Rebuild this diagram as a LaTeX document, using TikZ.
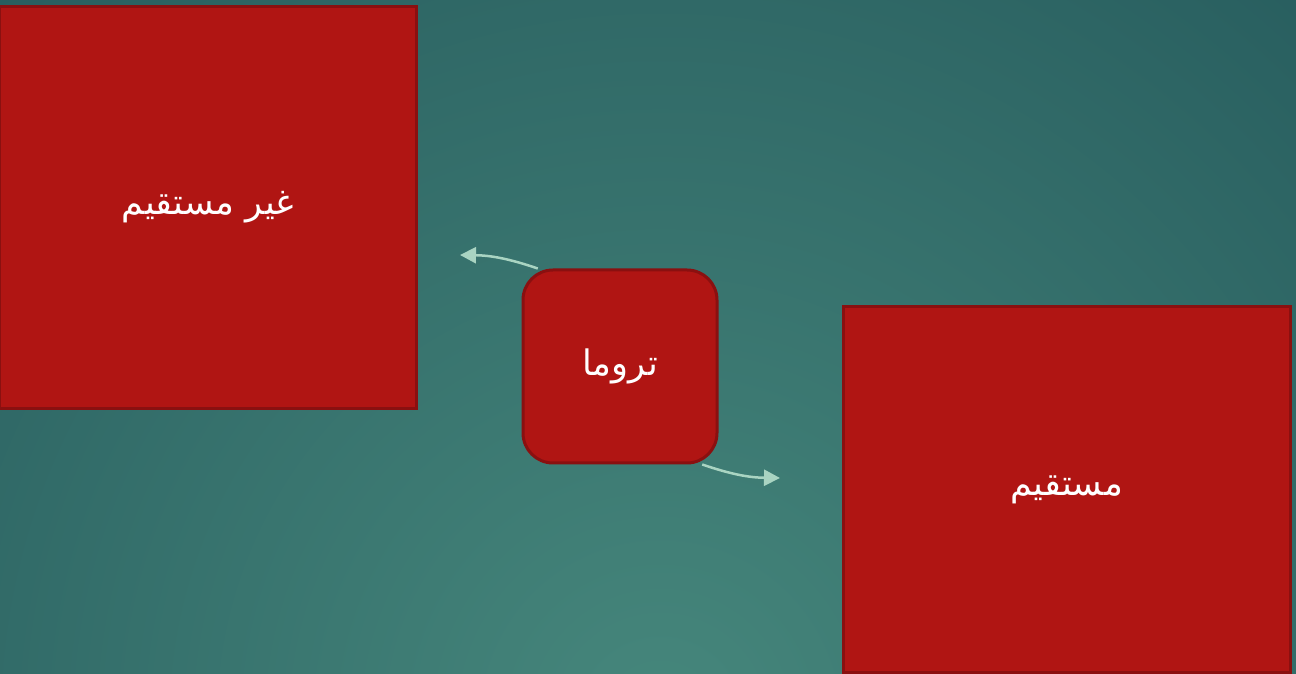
\documentclass[tikz,border=0pt]{standalone}
\usepackage{fontspec}
\usetikzlibrary{arrows.meta}
\TeXXeTstate=1
\newfontfamily\arabicfont[Script=Arabic]{DejaVu Sans}
\definecolor{boxred}{HTML}{B01513}
\definecolor{boxedge}{HTML}{8A1010}
\definecolor{arrowmint}{HTML}{A9D4C2}
\definecolor{bgdark}{HTML}{23575A}
\definecolor{bglight}{HTML}{46877C}
\newcommand{\ar}[1]{{\arabicfont\beginR #1\endR}}
\tikzset{
	redbox/.style = {draw=boxedge, fill=boxred, line width=0.6mm,
	                 text=white, font=\fontsize{20}{24}\selectfont,
	                 inner sep=0pt},
	roundbox/.style = {redbox, rounded corners=6mm,
	                   minimum width=38.8mm, minimum height=38.6mm},
	mintarrow/.style = {draw=arrowmint, line width=0.5mm,
	                    -{Triangle[length=3.2mm,width=3.2mm]}}
}

\begin{document}
\begin{tikzpicture}[x=0.2mm,y=-0.2mm]
	\useasboundingbox (0,0) rectangle (1296,674);
	% background
	\begin{scope}
		\clip (0,0) rectangle (1296,674);
		\fill[bgdark] (0,0) rectangle (1296,674);
		\shade[inner color=bglight, outer color=bgdark] (660,720) circle (1150);
	\end{scope}
	% boxes
	\node[redbox, minimum width=83.2mm, minimum height=80.2mm] (indirect) at (208,207.5) {\ar{غير مستقيم}};
	\node[redbox, minimum width=89.4mm, minimum height=73mm] (direct) at (1066.5,489.5) {\ar{مستقيم}};
	\node[roundbox] (trauma) at (620,366.5) {\ar{تروما}};
	\coordinate (tipL) at (460,255);
	\coordinate (tipR) at (780,478);
	% arrows
	\draw[mintarrow] (trauma.130) to[bend right=9] (tipL);
	\draw[mintarrow] (trauma.-50) to[bend right=9] (tipR);
\end{tikzpicture}
\end{document}
